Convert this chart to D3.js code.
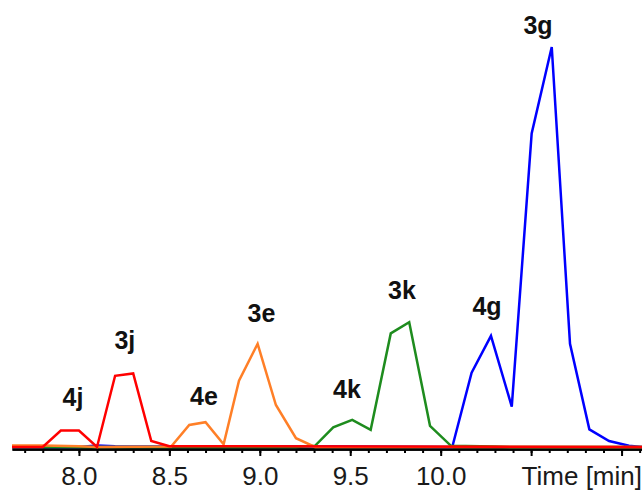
<!DOCTYPE html>
<html>
<head>
<meta charset="utf-8">
<script src="https://cdn.jsdelivr.net/npm/d3@7"></script>
<style>
	body { margin: 0; background: #fff; }
	svg { display: block; }
	.tick text { font-family: "Liberation Sans", Arial, sans-serif; font-size: 26px; fill: #1a1a1a; }
	.peak { font-family: "Liberation Sans", Arial, sans-serif; font-size: 25px; font-weight: bold; fill: #111; }
</style>
</head>
<body>
<svg width="642" height="490"></svg>
<script>
// retention time [min] and intensity (3g peak = 100)
var redT    = [7.63, 7.8, 7.9, 8.0, 8.1, 8.2, 8.3, 8.4, 8.5, 11.113];
var redV    = [0, 0, 4.1, 4.1, 0, 17.8, 18.4, 1.5, 0.2, 0];
var orangeT = [7.63, 7.8, 8.0, 8.1, 8.51, 8.61, 8.70, 8.80, 8.885, 8.988, 9.089, 9.20, 9.305, 11.113];
var orangeV = [0.4, 0.4, 0.2, 0, 0.1, 5.5, 6.2, 0.7, 16.6, 25.8, 10.5, 2.2, 0, 0];
var greenT  = [7.63, 9.2, 9.305, 9.406, 9.511, 9.613, 9.724, 9.826, 9.941, 10.057, 10.3, 10.4, 11.113];
var greenV  = [0, 0, 0.3, 4.9, 6.8, 4.3, 28.4, 31.2, 5.3, 0.3, 0.1, 0, 0];
var blueT   = [7.63, 8.0, 8.1, 8.2, 8.4, 8.7, 9.4, 9.6, 10.064, 10.171, 10.278, 10.393, 10.503, 10.614, 10.715, 10.822, 10.931, 11.041, 11.113];
var blueV   = [0, 0, 0.4, 0.2, 0.1, 0.1, 0.2, 0.1, 0, 18.6, 27.8, 10.1, 78.4, 100, 25.8, 4.4, 1.5, 0.3, 0];

var peakNames = ["4j", "3j", "4e", "3e", "4k", "3k", "4g", "3g"];
var peakT     = [7.967, 8.254, 8.691, 9.009, 9.482, 9.786, 10.256, 10.538];
var peakV     = [10.3, 24.5, 10.5, 31.3, 12.3, 37, 33, 103.3];

var majorTicks = [8.0, 8.5, 9.0, 9.5, 10.0, 10.5, 11.0];
var tickLabels = ["8.0", "8.5", "9.0", "9.5", "10.0", "", ""];
var axisTitle = "Time [min]";

var svg = d3.select("svg");
var x = d3.scaleLinear().domain([7.63, 11.113]).range([12, 642]);
var y = d3.scaleLinear().domain([0, 100]).range([447, 47]);

var minorTicks = d3.range(77, 112).map(function(d) { return d / 10; });

// axis
var gMinor = svg.append("g").attr("transform", "translate(0,449)")
	.call(d3.axisBottom(x).tickValues(minorTicks).tickSize(4).tickSizeOuter(0).tickFormat(""));
var gMajor = svg.append("g").attr("transform", "translate(0,449)")
	.call(d3.axisBottom(x).tickValues(majorTicks).tickSize(7).tickSizeOuter(0).tickPadding(11)
		.tickFormat(function(d, i) { return tickLabels[i]; }));
svg.selectAll(".domain").attr("stroke", "#000").attr("stroke-width", 2.5);
svg.selectAll(".tick line").attr("stroke", "#000").attr("stroke-width", 2);
gMajor.selectAll(".tick text").attr("dy", "0.69em");

svg.append("text")
	.attr("x", 642).attr("y", 485).attr("text-anchor", "end")
	.style("font-family", "'Liberation Sans', Arial, sans-serif").style("font-size", "26px").style("fill", "#1a1a1a")
	.text(axisTitle);

// traces
var series = [
	{ t: blueT, v: blueV, color: "#0000ff" },
	{ t: greenT, v: greenV, color: "#1e8c1e" },
	{ t: orangeT, v: orangeV, color: "#ff7f27" },
	{ t: redT, v: redV, color: "#ff0000" }
];
var line = d3.line()
	.x(function(d) { return x(d[0]); })
	.y(function(d) { return y(d[1]); });

svg.append("g").selectAll("path").data(series).enter().append("path")
	.attr("d", function(s) { return line(d3.zip(s.t, s.v)); })
	.attr("fill", "none")
	.attr("stroke", function(s) { return s.color; })
	.attr("stroke-width", 2.5)
	.attr("stroke-linejoin", "miter");

// peak labels
svg.append("g").selectAll("text").data(peakNames).enter().append("text")
	.attr("class", "peak")
	.attr("x", function(d, i) { return x(peakT[i]); })
	.attr("y", function(d, i) { return y(peakV[i]); })
	.attr("text-anchor", "middle")
	.text(function(d) { return d; });
</script>
</body>
</html>
